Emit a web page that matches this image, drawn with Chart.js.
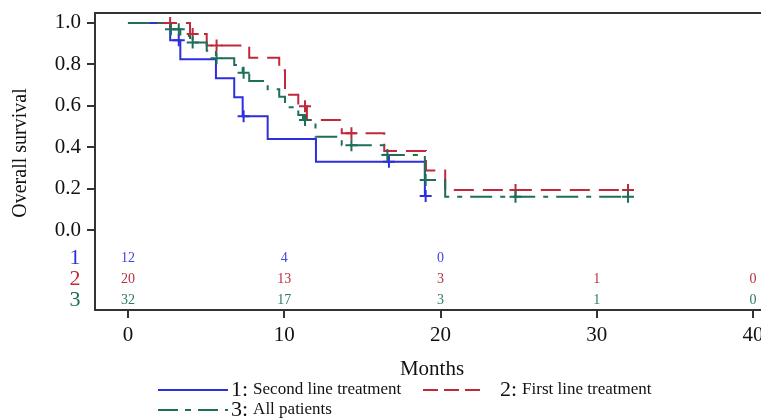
<!DOCTYPE html>
<html>
<head>
<meta charset="utf-8">
<script src="https://cdn.jsdelivr.net/npm/chart.js@4.4.1/dist/chart.umd.min.js"></script>
<style>
  html, body { margin: 0; padding: 0; background: #fff; }
  canvas { display: block; }
</style>
</head>
<body>
<canvas id="km" width="761" height="420"></canvas>
<script>
// axis ticks
const xTicks = [0, 10, 20, 30, 40];
const yTicks = [0, 0.2, 0.4, 0.6, 0.8, 1.0];

// 1: second line treatment
const secondTimes = [0, 2.7, 3.35, 5.63, 6.8, 7.34, 8.94, 12.03, 19.0];
const secondSurv = [1, 0.917, 0.825, 0.733, 0.641, 0.55, 0.44, 0.33, 0.165];
const secondCensor = [3.25, 7.4, 16.7, 19.05];

// 2: first line treatment
const firstTimes = [0, 3.97, 5.04, 7.76, 9.68, 10.05, 10.9, 11.45, 13.68, 16.4, 19.07, 20.3, 32.0];
const firstSurv = [1, 0.947, 0.891, 0.832, 0.772, 0.653, 0.598, 0.531, 0.467, 0.382, 0.287, 0.193, 0.193];
const firstCensor = [2.7, 4.14, 5.67, 11.33, 14.3, 24.8, 32.0];

// 3: all patients
const allTimes = [0, 2.7, 3.35, 3.97, 5.04, 5.63, 6.8, 7.34, 7.76, 8.94, 9.68, 10.05, 10.9, 11.2, 12.0, 13.68, 16.4, 19.0, 20.3, 32.0];
const allSurv = [1, 0.969, 0.937, 0.905, 0.866, 0.829, 0.797, 0.76, 0.72, 0.68, 0.644, 0.593, 0.556, 0.531, 0.451, 0.41, 0.362, 0.242, 0.161, 0.161];
const allCensor = [2.75, 3.25, 4.14, 5.67, 7.4, 11.33, 14.3, 16.6, 19.05, 24.8, 32.0];

// number at risk (at xTicks)
const secondAtRisk = [12, 4, 0];
const firstAtRisk = [20, 13, 3, 1, 0];
const allAtRisk = [32, 17, 3, 1, 0];

const BLUE = '#2e2ede';
const RED = '#c0283c';
const GREEN = '#1d6e5a';
const SERIF = '"Liberation Serif", "DejaVu Serif", serif';

function stepPoints(times, surv) {
    return times.map((t, i) => ({ x: t, y: surv[i] }));
}

// place censor marks on the curve they belong to
function censorPoints(times, surv, censor) {
    return censor.map(t => {
        let s = surv[0];
        for (let i = 0; i < times.length; i++) {
            if (times[i] <= t) s = surv[i];
        }
        return { x: t, y: s };
    });
}

function curve(times, surv, color, dash) {
    return {
        data: stepPoints(times, surv),
        borderColor: color,
        borderWidth: 2,
        borderDash: dash,
        stepped: 'before',
        pointRadius: 0,
        fill: false
    };
}

function marks(times, surv, censor, color) {
    return {
        data: censorPoints(times, surv, censor),
        showLine: false,
        borderColor: color,
        backgroundColor: color,
        pointStyle: 'cross',
        pointRadius: 6,
        pointBorderWidth: 2
    };
}

const extras = {
    id: 'extras',
    afterDraw(chart) {
        const { ctx, chartArea: a, scales: { x } } = chart;
        ctx.save();

        // top frame line
        ctx.strokeStyle = '#333';
        ctx.lineWidth = 2;
        ctx.beginPath();
        ctx.moveTo(a.left, a.top);
        ctx.lineTo(a.right, a.top);
        ctx.stroke();

        // y axis title
        ctx.fillStyle = '#111';
        ctx.font = '20px ' + SERIF;
        ctx.textAlign = 'center';
        ctx.textBaseline = 'middle';
        ctx.save();
        ctx.translate(21, 153);
        ctx.rotate(-Math.PI / 2);
        ctx.fillText('Overall survival', 0, 0);
        ctx.restore();

        // x axis title
        ctx.font = '21px ' + SERIF;
        ctx.fillText('Months', 432, 369);

        // number at risk table
        const rows = [
            [secondAtRisk, BLUE, '#4343e4'],
            [firstAtRisk, RED, '#b8303f'],
            [allAtRisk, GREEN, '#2a7a66']
        ];
        rows.forEach(([vals, color, textColor], r) => {
            const yy = a.bottom - 52 + r * 21;
            ctx.font = '22px ' + SERIF;
            ctx.fillStyle = color;
            ctx.fillText(String(r + 1), 75, yy);
            ctx.font = '14px ' + SERIF;
            ctx.fillStyle = textColor;
            vals.forEach((v, i) => {
                ctx.fillText(String(v), x.getPixelForValue(xTicks[i]), yy);
            });
        });

        // legend
        const items = [
            ['1', 'Second line treatment', BLUE, [], 158, 390],
            ['2', 'First line treatment', RED, [15, 6], 423, 390],
            ['3', 'All patients', GREEN, [20, 7, 6, 7], 158, 410]
        ];
        items.forEach(([num, label, color, dash, lx, ly]) => {
            const len = num === '2' ? 57 : 70;
            ctx.strokeStyle = color;
            ctx.lineWidth = 2;
            ctx.setLineDash(dash);
            ctx.beginPath();
            ctx.moveTo(lx, ly);
            ctx.lineTo(lx + len, ly);
            ctx.stroke();
            ctx.setLineDash([]);
            ctx.fillStyle = '#111';
            ctx.textAlign = 'left';
            const tx = lx + len + (num === '2' ? 20 : 3);
            ctx.font = '22px ' + SERIF;
            ctx.fillText(num + ':', tx, ly);
            const w = ctx.measureText(num + ':').width;
            ctx.font = '17px ' + SERIF;
            ctx.fillText(label, tx + w + 5, ly);
        });

        ctx.restore();
    }
};

// first dataset is drawn on top, so green sits over red, red over blue
new Chart(document.getElementById('km').getContext('2d'), {
    type: 'line',
    data: {
        datasets: [
            marks(allTimes, allSurv, allCensor, GREEN),
            marks(firstTimes, firstSurv, firstCensor, RED),
            marks(secondTimes, secondSurv, secondCensor, BLUE),
            curve(allTimes, allSurv, GREEN, [22, 8, 5, 8]),
            curve(firstTimes, firstSurv, RED, [20, 9]),
            curve(secondTimes, secondSurv, BLUE, [])
        ]
    },
    options: {
        responsive: false,
        animation: false,
        layout: { autoPadding: false, padding: { top: 13, left: 0, right: 0, bottom: 0 } },
        plugins: {
            legend: { display: false },
            tooltip: { enabled: false }
        },
        scales: {
            x: {
                type: 'linear',
                min: -2.11,
                max: 40.51,
                afterFit: s => {
                    s.height = 110;
                    s.paddingLeft = 0;
                    s.paddingRight = 0;
                },
                afterBuildTicks: s => { s.ticks = xTicks.map(v => ({ value: v })); },
                grid: { drawOnChartArea: false, tickLength: 8, color: '#333', lineWidth: 2 },
                border: { color: '#333', width: 2 },
                ticks: { color: '#111', font: { family: SERIF, size: 21 }, padding: 5, maxRotation: 0 }
            },
            y: {
                min: -0.386,
                max: 1.048,
                afterFit: s => {
                    s.width = 95;
                    s.paddingTop = 0;
                    s.paddingBottom = 0;
                },
                afterBuildTicks: s => { s.ticks = yTicks.map(v => ({ value: v })); },
                grid: { drawOnChartArea: false, tickLength: 8, color: '#333', lineWidth: 2 },
                border: { color: '#333', width: 2 },
                ticks: {
                    color: '#111',
                    font: { family: SERIF, size: 21 },
                    padding: 6,
                    callback: v => v.toFixed(1)
                }
            }
        }
    },
    plugins: [extras]
});
</script>
</body>
</html>
